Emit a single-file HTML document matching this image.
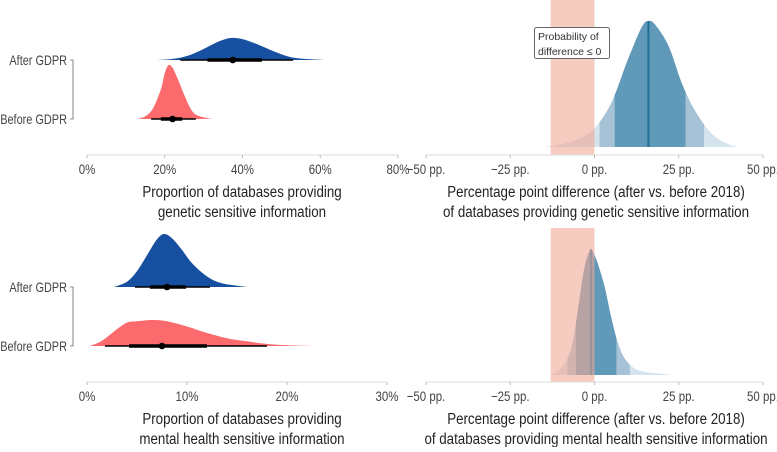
<!DOCTYPE html>
<html><head><meta charset="utf-8"><style>
body{margin:0;background:#fff}
svg text{font-family:"Liberation Sans",sans-serif;fill:#333}
.tk{font-size:14px;fill:#444}
.tt{font-size:15.5px;fill:#222}
</style></head><body>
<svg id="c" width="777" height="447" viewBox="0 0 777 447" xmlns="http://www.w3.org/2000/svg"></svg>
<script>
// ---- data ----
const geneticTicks=[0,20,40,60,80];
const mentalTicks=[0,10,20,30];
const diffTicks=[-50,-25,0,25,50];
const genAfterX=[18,22,26,30,34,37,40,44,48,52,56,61];
const genAfterD=[0,0.05,0.2,0.5,0.85,1,0.95,0.7,0.4,0.15,0.05,0];
const genAfterStats=[37.5,31,45,24,53];
const genBeforeX=[13,15,17,19,20,21,22,23,25,27,29,32];
const genBeforeD=[0,0.05,0.2,0.55,0.85,1,0.95,0.8,0.45,0.15,0.05,0];
const genBeforeStats=[22,19,24.5,16.5,28];
const genDiffX=[-15,-10,-5,0,5,10,14,16,18,22,26,30,35,40,43];
const genDiffD=[0,0.02,0.06,0.15,0.35,0.7,0.95,1,0.97,0.8,0.5,0.28,0.1,0.02,0];
const genDiffStats=[16,6,27,1.5,32.5];
const menAfterX=[2.7,4,5,6,7,7.7,8.5,9.5,10.5,12,13.5,16];
const menAfterD=[0,0.1,0.3,0.6,0.9,1,0.92,0.7,0.45,0.2,0.07,0];
const menAfterStats=[8,6.3,9.9,4.8,12.3];
const menBeforeX=[0.3,1.5,3,4,5,6.5,8,10,12,14,16,18,20,23];
const menBeforeD=[0,0.2,0.65,0.9,0.95,1,0.95,0.75,0.5,0.3,0.18,0.08,0.03,0];
const menBeforeStats=[7.5,4.2,12,1.8,18];
const menDiffX=[-13,-10,-7,-5,-3,-1.5,-1,0,1,3,5,7,9,12,16,20,23];
const menDiffD=[0,0.05,0.2,0.5,0.85,0.98,1,0.95,0.88,0.7,0.45,0.25,0.13,0.05,0.02,0.01,0];
const menDiffStats=[-1,-5.5,6.5,-8,10.5];
const ropeRange=[-13,0];

const NS="http://www.w3.org/2000/svg";
const svg=document.getElementById('c');
function mk(tag,attrs,parent){const e=document.createElementNS(NS,tag);for(const k in attrs)e.setAttribute(k,attrs[k]);(parent||svg).appendChild(e);return e;}
function condense(t,f){const L=t.getComputedTextLength();t.setAttribute('textLength',(L*f).toFixed(1));t.setAttribute('lengthAdjust','spacingAndGlyphs');}
function lin(d0,d1,r0,r1){return v=>r0+(v-d0)/(d1-d0)*(r1-r0);}
function areaPath(xs,ds,sx,base,h){
  const P=xs.map((x,i)=>[sx(x),base-ds[i]*h]);
  let p='M'+P[0][0].toFixed(1)+','+base+'L'+P[0][0].toFixed(1)+','+P[0][1].toFixed(1);
  for(let i=0;i<P.length-1;i++){
    const p0=P[Math.max(i-1,0)],p1=P[i],p2=P[i+1],p3=P[Math.min(i+2,P.length-1)];
    const c1=[p1[0]+(p2[0]-p0[0])/6,p1[1]+(p2[1]-p0[1])/6];
    const c2=[p2[0]-(p3[0]-p1[0])/6,p2[1]-(p3[1]-p1[1])/6];
    p+='C'+c1.map(v=>v.toFixed(1))+' '+c2.map(v=>v.toFixed(1))+' '+p2.map(v=>v.toFixed(1));
  }
  p+='L'+P[P.length-1][0].toFixed(1)+','+base+'Z';return p;}
function axis(sx,ticks,fmt,y,x0,x1,name){
  const l=mk('line',{x1:x0,x2:x1,y1:y,y2:y,stroke:'#ddd','stroke-width':1});
  
  ticks.forEach(t=>{
    const tk=mk('line',{x1:sx(t),x2:sx(t),y1:y,y2:y+3,stroke:'#bbb'});
    
    const tx=mk('text',{x:sx(t),y:y+19,'text-anchor':'middle',class:'tk'});tx.textContent=fmt(t);
    
    condense(tx,0.82);
  });
}
function title(x,y,lines,name){lines.forEach((s,i)=>{const t=mk('text',{x:x,y:y+i*20,'text-anchor':'middle',class:'tt'});t.textContent=s;
  condense(t,0.86);});}
function ridge(xs,ds,st,sx,base,h,color,name){
  const p=mk('path',{d:areaPath(xs,ds,sx,base,h),fill:color});
  
  const l1=mk('line',{x1:sx(st[3]),x2:sx(st[4]),y1:base,y2:base,stroke:'#000','stroke-width':1.6});
  
  const l2=mk('line',{x1:sx(st[1]),x2:sx(st[2]),y1:base,y2:base,stroke:'#000','stroke-width':3.5});
  
  const c=mk('circle',{cx:sx(st[0]),cy:base,r:3.3,fill:'#000'});
  
}
function ylabels(y1,y2){
  [[y1,'After GDPR'],[y2,'Before GDPR']].forEach(([y,s])=>{const t=mk('text',{x:67,y:y+5,'text-anchor':'end',class:'tk'});t.textContent=s;
    condense(t,0.78);});
  const b=mk('path',{d:`M70,${y1}H73V${y2}H70`,fill:'none',stroke:'#666','stroke-width':0.8});
  
}
function diff(xs,ds,st,sx,base,h,top,axisY,id,name){
  const d=areaPath(xs,ds,sx,base,h);
  const cp=mk('clipPath',{id:id});mk('path',{d:d},cp);
  const g=mk('g',{'clip-path':`url(#${id})`});
  
  mk('rect',{x:0,y:0,width:777,height:447,fill:'#d5e3ed'},g);
  mk('rect',{x:sx(st[3]),y:0,width:sx(st[4])-sx(st[3]),height:447,fill:'#a5c2d6'},g);
  mk('rect',{x:sx(st[1]),y:0,width:sx(st[2])-sx(st[1]),height:447,fill:'#6199b9'},g);
  mk('line',{x1:sx(st[0]),x2:sx(st[0]),y1:0,y2:447,stroke:'#1f6e96','stroke-width':2},g);
  const r=mk('rect',{x:sx(ropeRange[0]),y:top,width:sx(ropeRange[1])-sx(ropeRange[0]),height:axisY-top,fill:'#f0a996','fill-opacity':0.6});
  
}
// panel 1
let sx=lin(0,80,87,398);
ylabels(60,119);
ridge(genAfterX,genAfterD,genAfterStats,sx,60,22,'#1750a0','after-gdpr-genetic');
ridge(genBeforeX,genBeforeD,genBeforeStats,sx,119,54,'#fb6b6e','before-gdpr-genetic');
axis(sx,geneticTicks,t=>t+'%',155,87,398,'x-axis-genetic');
title(242,197,['Proportion of databases providing','genetic sensitive information'],'x-axis-title-genetic');
// panel 2
let dx=lin(-50,50,426,763);
diff(genDiffX,genDiffD,genDiffStats,dx,147,126,0,155,'cg','genetic-difference');
axis(dx,diffTicks,t=>(t<0?'\u2212'+(-t):t)+' pp.',155,426,763,'x-axis-genetic-diff');
title(596,197,['Percentage point difference (after vs. before 2018)','of databases providing genetic sensitive information'],'x-axis-title-genetic-diff');
const bx=mk('rect',{x:534.5,y:27.5,width:75,height:31,fill:'#fff',stroke:'#666',rx:2});

[['Probability of',40],['difference \u2264 0',55]].forEach(([s,y])=>{const t=mk('text',{x:538,y:y,'font-size':10.5,fill:'#222'});t.textContent=s;
  });
// panel 3
sx=lin(0,30,87,387);
ylabels(287,346);
ridge(menAfterX,menAfterD,menAfterStats,sx,287,53,'#1750a0','after-gdpr-mental');
ridge(menBeforeX,menBeforeD,menBeforeStats,sx,346,26,'#fb6b6e','before-gdpr-mental');
axis(sx,mentalTicks,t=>t+'%',382,87,387,'x-axis-mental');
title(242,424,['Proportion of databases providing','mental health sensitive information'],'x-axis-title-mental');
// panel 4
diff(menDiffX,menDiffD,menDiffStats,dx,375,126,228,382,'cm','mental-difference');
axis(dx,diffTicks,t=>(t<0?'\u2212'+(-t):t)+' pp.',382,426,763,'x-axis-mental-diff');
title(596,424,['Percentage point difference (after vs. before 2018)','of databases providing mental health sensitive information'],'x-axis-title-mental-diff');
</script>
</body></html>
